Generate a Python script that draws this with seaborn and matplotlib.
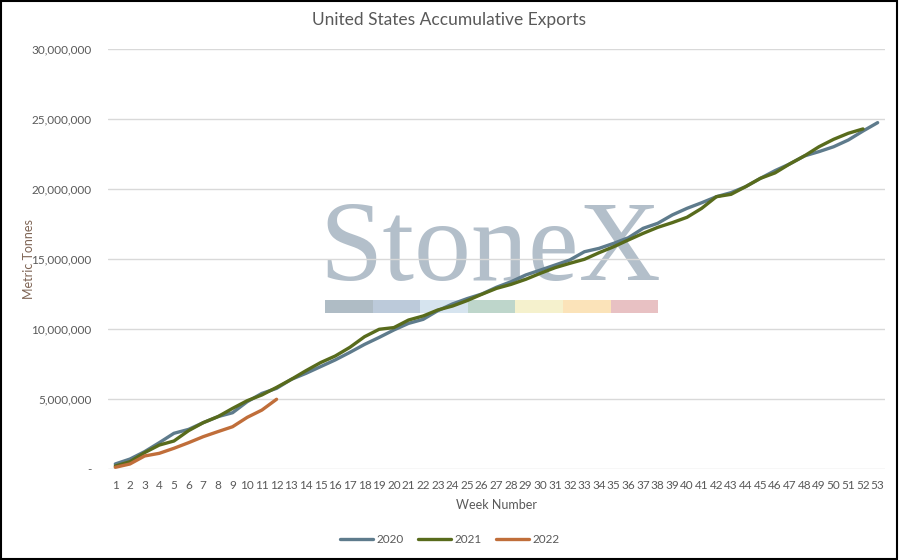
import matplotlib
matplotlib.use("Agg")
import matplotlib.pyplot as plt
from matplotlib.patches import Rectangle
from matplotlib.lines import Line2D
from matplotlib.ticker import FuncFormatter, FixedLocator
import seaborn as sns
import pandas as pd

weeks_2020 = list(range(1, 54))
exports_2020 = [
    0.36, 0.71, 1.24, 1.88, 2.55, 2.83, 3.31, 3.74, 4.02, 4.81,
    5.40, 5.76, 6.40, 6.83, 7.31, 7.79, 8.33, 8.90, 9.40, 9.93,
    10.40, 10.69, 11.31, 11.79, 12.17, 12.50, 12.98, 13.38, 13.86, 14.21,
    14.57, 14.93, 15.52, 15.76, 16.12, 16.52, 17.19, 17.55, 18.15, 18.62,
    19.02, 19.45, 19.74, 20.17, 20.76, 21.31, 21.79, 22.36, 22.67, 23.02,
    23.50, 24.14, 24.74,
]
weeks_2021 = list(range(1, 53))
exports_2021 = [
    0.21, 0.52, 1.17, 1.71, 2.00, 2.74, 3.31, 3.74, 4.33, 4.88,
    5.29, 5.83, 6.40, 7.02, 7.60, 8.07, 8.69, 9.45, 9.98, 10.10,
    10.64, 10.93, 11.36, 11.64, 12.03, 12.48, 12.90, 13.19, 13.55, 13.98,
    14.38, 14.69, 14.98, 15.45, 15.88, 16.36, 16.83, 17.26, 17.60, 17.98,
    18.62, 19.45, 19.62, 20.17, 20.76, 21.15, 21.79, 22.36, 23.02, 23.55,
    23.98, 24.29,
]
weeks_2022 = list(range(1, 13))
exports_2022 = [
    0.12, 0.36, 0.93, 1.12, 1.48, 1.88, 2.31, 2.67, 3.02, 3.69,
    4.21, 4.98,
]
years = ["2020", "2021", "2022"]
year_colors = {"2020": "#5E7B8C", "2021": "#586B1C", "2022": "#C06E3A"}

y_ticks = [0, 5e6, 10e6, 15e6, 20e6, 25e6, 30e6]
x_ticks = list(range(1, 54))

rows = []
for yr, wk, vals in [("2020", weeks_2020, exports_2020),
                     ("2021", weeks_2021, exports_2021),
                     ("2022", weeks_2022, exports_2022)]:
    for w, v in zip(wk, vals):
        rows.append({"Week": w, "Tonnes": v * 1e6, "Year": yr})
df = pd.DataFrame(rows)

sns.set_theme(style="white")
plt.rcParams["font.family"] = ["Lato", "DejaVu Sans"]

fig = plt.figure(figsize=(8.99, 5.60), dpi=100)
ax = fig.add_axes([0.1201, 0.1625, 0.8643, 0.75])
ax.set_facecolor("none")

# watermark (behind axes)
wm_color = "#B3BFCA"
fig.text(0.545, 0.50, "StoneX", fontsize=82,
         family=["Liberation Serif", "DejaVu Serif"],
         color=wm_color, ha="center", va="baseline", zorder=-5)
bar_colors = ["#AFBCC5", "#BCCADA", "#D6E4EF", "#BED6CB", "#F5F1CD", "#FBE3B9", "#E8C1C3"]
x0 = 325 / 899
bw = 47.6 / 899
for i, c in enumerate(bar_colors):
    fig.patches.append(Rectangle((x0 + i * bw, 1 - 313 / 560), bw, 13 / 560,
                                 transform=fig.transFigure, facecolor=c,
                                 edgecolor="none", zorder=-5))

sns.lineplot(data=df, x="Week", y="Tonnes", hue="Year", hue_order=years,
             palette=year_colors, linewidth=2.4, ax=ax, legend=False)

ax.set_xlim(0.5, 53.5)
ax.set_ylim(0, 30e6)
ax.xaxis.set_major_locator(FixedLocator(x_ticks))
ax.yaxis.set_major_locator(FixedLocator(y_ticks))
ax.yaxis.set_major_formatter(FuncFormatter(lambda v, p: "-" if v == 0 else f"{int(v):,}"))
ax.grid(axis="y", color="#D9D9D9", linewidth=1.0)
ax.grid(axis="x", visible=False)
for s in ax.spines.values():
    s.set_visible(False)
ax.tick_params(axis="both", length=0, labelsize=8.5, labelcolor="#595959")
ax.tick_params(axis="x", pad=8)
ax.tick_params(axis="y", pad=12)

ax.set_xlabel("Week Number", fontsize=9, color="#595959", labelpad=6)
ax.set_ylabel("Metric Tonnes", fontsize=9, color="#7F6555")
ax.yaxis.set_label_coords(-0.094, 0.5)

fig.text(0.5, 1 - 20 / 560, "United States Accumulative Exports", fontsize=12.5,
         color="#595959", ha="center", va="center")

handles = [Line2D([0], [0], color=year_colors[y], lw=2.4) for y in years]
fig.legend(handles, years, loc="center", bbox_to_anchor=(0.5, 0.036), ncol=3,
           frameon=False, fontsize=8.5, handlelength=2.8, columnspacing=1.2,
           handletextpad=0.3, labelcolor="#595959")

fig.patches.append(Rectangle((0.001, 0.001), 0.997, 0.997, transform=fig.transFigure,
                             fill=False, edgecolor="black", linewidth=1.5, zorder=10))

fig.savefig("out.png", dpi=100)
